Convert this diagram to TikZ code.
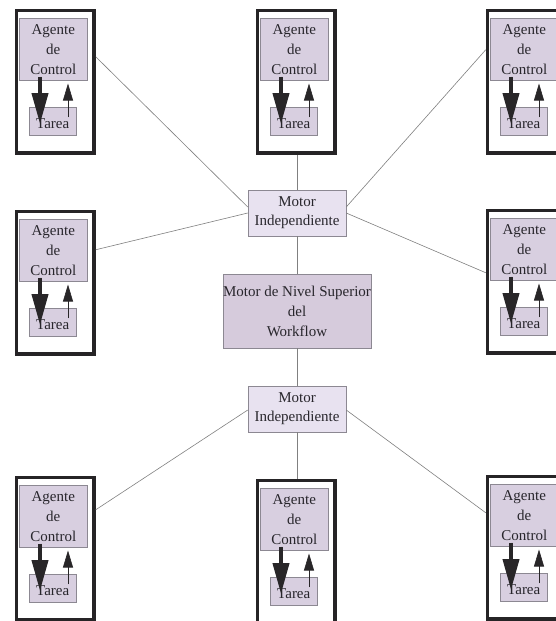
\documentclass[tikz,border=0pt]{standalone}
\usepackage{fontspec}
\setmainfont{Liberation Serif}
\usetikzlibrary{arrows.meta,calc}

\definecolor{agfill}{RGB}{216,207,224}
\definecolor{motorfill}{RGB}{232,226,240}
\definecolor{topfill}{RGB}{214,203,220}
\definecolor{boxline}{RGB}{140,136,146}
\definecolor{framec}{RGB}{38,36,38}
\definecolor{linec}{RGB}{128,128,128}
\definecolor{textc}{RGB}{40,38,44}
\definecolor{arrowc}{RGB}{40,38,40}

% One agent unit: frame, control agent, task and the two arrows between them
% #1 name prefix, #2 left x, #3 top y
\newcommand\agentunit[3]{%
  \node[unitframe] (#1) at (#2+1.75,#3+1.75) {};
  \node[agbox] (#1a) at (#2+6,#3+11) {Agente\\de\\Control};
  \node[taskbox] (#1t) at (#2+16,#3+100) {Tarea};
  \draw[thickarrow] ($(#1a.south west)+(21,-4)$) -- ($(#1t.north west)+(11,17)$);
  \draw[thinarrow] ($(#1t.north west)+(39,10)$) -- ($(#1a.south west)+(49,3)$);
}

\begin{document}
\begin{tikzpicture}[x=1pt,y=-1pt,
  txt/.style={font=\fontsize{15}{20}\selectfont,text=textc,align=center},
  unitframe/.style={draw=framec,line width=3.5pt,fill=white,anchor=north west,
    minimum width=77.5pt,minimum height=142.5pt,inner sep=0pt},
  agbox/.style={txt,draw=boxline,line width=0.5pt,fill=agfill,anchor=north west,
    minimum width=68pt,minimum height=62pt,inner sep=0pt},
  taskbox/.style={txt,draw=boxline,line width=0.5pt,fill=agfill,anchor=north west,
    minimum width=47pt,minimum height=28pt,inner sep=0pt,text height=15pt,text depth=0pt},
  motorbox/.style={txt,font=\fontsize{15}{19}\selectfont,draw=boxline,line width=0.5pt,
    fill=motorfill,minimum width=98pt,minimum height=46pt,inner sep=0pt},
  topbox/.style={txt,draw=boxline,line width=0.5pt,fill=topfill,
    minimum width=148pt,minimum height=74pt,inner sep=0pt},
  conn/.style={draw=linec,line width=0.6pt},
  thickarrow/.style={draw=arrowc,fill=arrowc,line width=4pt,
    -{Triangle[length=31pt,width=16pt]}},
  thinarrow/.style={draw=arrowc,fill=arrowc,line width=0.6pt,
    -{Triangle[length=17pt,width=10pt]}}
]
\useasboundingbox (0,0) rectangle (556,621);
\clip (0,0) rectangle (556,621);
\fill[white] (0,0) rectangle (556,621);

% central engines
\node[motorbox] (m1) at (297,213) {Motor\\Independiente};
\node[topbox] (sup) at (297,311) {Motor de Nivel Superior\\del\\Workflow};
\node[motorbox] (m2) at (297,409) {Motor\\Independiente};

% agent units
\agentunit{tl}{13}{7}
\agentunit{tm}{254}{7}
\agentunit{tr}{484}{7}
\agentunit{ml}{13}{208}
\agentunit{mr}{484}{207}
\agentunit{bl}{13}{474}
\agentunit{bm}{254}{477}
\agentunit{br}{484}{473}

% connections between the engines and the agent units
\draw[conn] (tm.south -| m1.north) -- (m1.north);
\draw[conn] (m1.south) -- (sup.north);
\draw[conn] (sup.south) -- (m2.north);
\draw[conn] (m2.south) -- (m2.south |- bm.north);
\draw[conn] ($(tl.north east)+(0,48)$) -- ($(m1.west)+(0,-6)$);
\draw[conn] ($(ml.north east)+(0,40)$) -- (m1.west);
\draw[conn] ($(tr.north west)+(0,41)$) -- ($(m1.east)+(0,-6)$);
\draw[conn] ($(mr.north west)+(0,64)$) -- (m1.east);
\draw[conn] ($(bl.north east)+(0,34)$) -- ($(m2.west)+(0,1)$);
\draw[conn] ($(br.north west)+(0,38)$) -- ($(m2.east)+(0,1)$);
\end{tikzpicture}
\end{document}
